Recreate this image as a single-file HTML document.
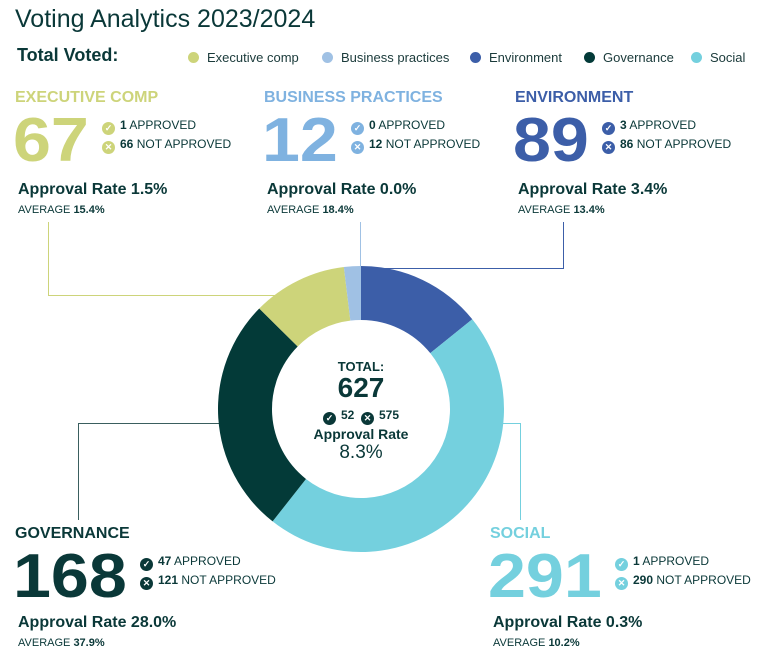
<!DOCTYPE html>
<html><head><meta charset="utf-8"><style>
body{margin:0;width:766px;height:666px;background:#fff;font-family:"Liberation Sans",sans-serif;color:#0a3838;position:relative;overflow:hidden}
.a{position:absolute;white-space:nowrap}
.title{left:15px;top:5px;font-size:25px;color:#0a3838}
.tv{left:17px;top:45px;font-size:18px;font-weight:bold}
.leg{top:50px;font-size:13px;color:#1a3a3a}
.leg i{display:inline-block;width:11px;height:11px;border-radius:50%;margin-right:8px;vertical-align:-1px}
.cat{font-size:16px;font-weight:bold;line-height:18px}
.big{font-size:62px;font-weight:900;line-height:62px;transform:scaleX(1.1);transform-origin:left top}
.st{font-size:12px;line-height:18px;color:#0a3838}
.st b{font-weight:bold}
.ic{display:inline-block;width:13px;height:13px;border-radius:50%;color:#fff;font-size:9px;line-height:13px;text-align:center;margin-right:5px;vertical-align:-2px;font-weight:bold}
.ar{font-size:16px;font-weight:bold;line-height:18px}
.av{font-size:11px;line-height:14px}
</style></head><body>
<div class="a title">Voting Analytics 2023/2024</div>
<div class="a tv">Total Voted:</div>
<div class="a leg" style="left:188px"><i style="background:#cdd47a"></i>Executive comp</div>
<div class="a leg" style="left:322px"><i style="background:#a0c1e4"></i>Business practices</div>
<div class="a leg" style="left:470px"><i style="background:#3c5ea8"></i>Environment</div>
<div class="a leg" style="left:584px"><i style="background:#033a38"></i>Governance</div>
<div class="a leg" style="left:691px"><i style="background:#74d0de"></i>Social</div>

<svg class="a" style="left:0;top:0" width="766" height="666">
<g fill="none" stroke-width="1">
<polyline stroke="#cdd47a" points="48.5,222 48.5,295.5 290,295.5"/>
<polyline stroke="#a0c1e4" points="360.5,222 360.5,268"/>
<polyline stroke="#3c5ea8" points="563.5,222 563.5,268.5 362,268.5"/>
<polyline stroke="#3a5e5e" points="78.5,520 78.5,423.5 222,423.5"/>
<polyline stroke="#74d0de" points="498,423.5 520.5,423.5 520.5,520"/>
</g>
<g id="donut"></g>
</svg>

<div class="a" style="left:296px;top:359px;width:130px;text-align:center">
<div style="font-size:13px;font-weight:bold;line-height:15px">TOTAL:</div>
<div style="font-size:28px;font-weight:900;line-height:28px">627</div>
<div style="font-size:12px;font-weight:bold;margin-top:4px;line-height:18px"><span class="ic" style="background:#0a3838">✓</span>52 &nbsp;<span class="ic" style="background:#0a3838">✕</span>575</div>
<div style="font-size:14px;font-weight:bold;margin-top:1px;line-height:17px">Approval Rate</div>
<div style="font-size:19px;line-height:20px">8.3%</div>
</div>

<div id="cards"></div>

<script>
const categories=["Environment","Social","Governance","Executive comp","Business practices"];
const totals=[89,291,168,67,12];
const approved=[3,1,47,1,0];
const notApproved=[86,290,121,66,12];
const rates=["3.4%","0.3%","28.0%","1.5%","0.0%"];
const averages=["13.4%","10.2%","37.9%","15.4%","18.4%"];
const colors=["#3c5ea8","#74d0de","#033a38","#cdd47a","#a0c1e4"];
const cx=361,cy=409,R=143,r=89;
const sum=totals.reduce((a,b)=>a+b,0);
const g=document.getElementById('donut');
let ang=0;
function pt(a,rad){return [cx+rad*Math.sin(a),cy-rad*Math.cos(a)];}
totals.forEach((v,i)=>{
  const a0=ang,a1=ang+v/sum*2*Math.PI;ang=a1;
  const L=(a1-a0)>Math.PI?1:0;
  const [x0,y0]=pt(a0,R),[x1,y1]=pt(a1,R),[x2,y2]=pt(a1,r),[x3,y3]=pt(a0,r);
  const p=document.createElementNS('http://www.w3.org/2000/svg','path');
  p.setAttribute('d',`M${x0},${y0}A${R},${R} 0 ${L} 1 ${x1},${y1}L${x2},${y2}A${r},${r} 0 ${L} 0 ${x3},${y3}Z`);
  p.setAttribute('fill',colors[i]);
  
  
  g.appendChild(p);
});
// card positions: [left, headerTop, rateOffset]
const pos=[[514,89,92],[489,525,89],[14,525,89],[14,89,92],[263,89,92]];
const catColors=["#3c5ea8","#74d0de","#0a3838","#cdd47a","#7fb2e0"];
const cards=document.getElementById('cards');
categories.forEach((c,i)=>{
  const d=document.createElement('div');
  d.className='a';
  d.style.left=pos[i][0]+'px';d.style.top=pos[i][1]+'px';
  
  
  const numW=String(totals[i]).length*38+12;
  const ro=pos[i][2];
  d.innerHTML=`<div class="a cat" style="left:1px;top:0;color:${catColors[i]}">${c.toUpperCase()}</div>
   <div class="a big" style="left:-1px;top:21px;color:${catColors[i]}">${totals[i]}</div>
   <div class="a st" style="left:${numW}px;top:27px"><span class="ic" style="background:${catColors[i]}">✓</span><b>${approved[i]}</b> APPROVED<br><span class="ic" style="background:${catColors[i]}">✕</span><b>${notApproved[i]}</b> NOT APPROVED</div>
  <div class="a ar" style="left:4px;top:${ro}px">Approval Rate ${rates[i]}</div>
  <div class="a av" style="left:4px;top:${ro+22}px">AVERAGE <b>${averages[i]}</b></div>`;
  cards.appendChild(d);
});
</script>
</body></html>
